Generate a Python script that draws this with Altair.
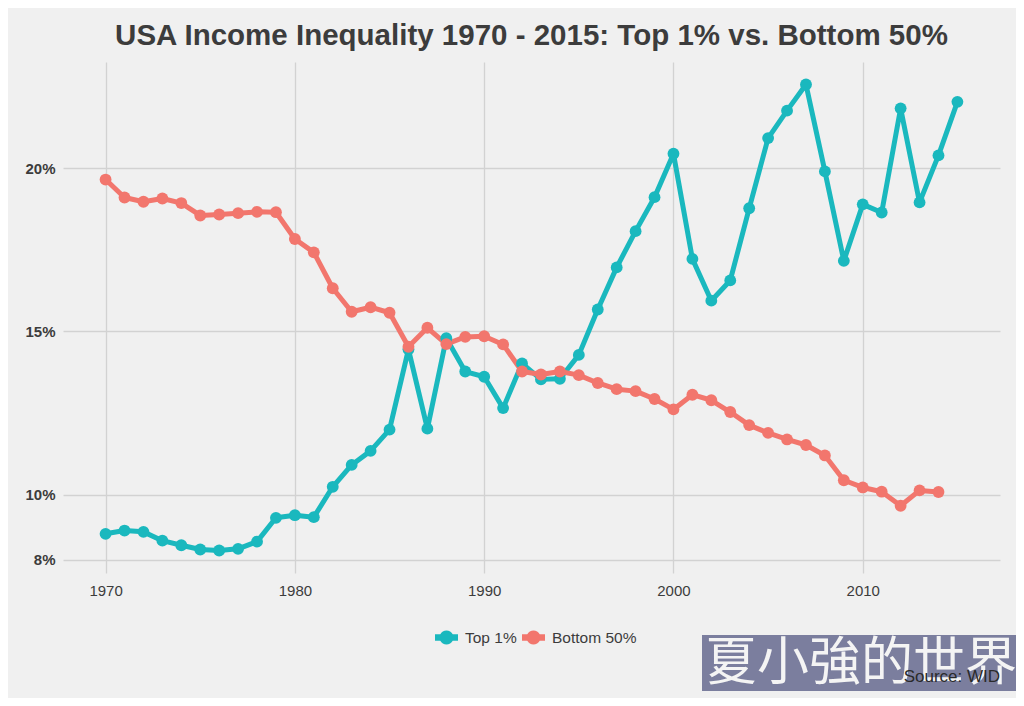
import pandas as pd
import altair as alt

# values (share of national income, %)
years = list(range(1970, 2016))
top_1 = [
    8.80, 8.90, 8.86, 8.59, 8.45, 8.32, 8.29, 8.34, 8.56, 9.29,
    9.37, 9.31, 10.24, 10.91, 11.34, 11.99, 14.45, 12.02, 14.79, 13.77,
    13.61, 12.65, 14.02, 13.53, 13.55, 14.28, 15.67, 16.96, 18.07, 19.11,
    20.44, 17.22, 15.94, 16.56, 18.77, 20.92, 21.76, 22.56, 19.90, 17.16,
    18.89, 18.64, 21.83, 18.95, 20.39, 22.03,
]
bottom_50 = [
    19.65, 19.10, 18.97, 19.07, 18.93, 18.55, 18.58, 18.62, 18.66, 18.65,
    17.83, 17.42, 16.32, 15.60, 15.74, 15.57, 14.53, 15.11, 14.61, 14.83,
    14.85, 14.60, 13.77, 13.68, 13.77, 13.66, 13.42, 13.23, 13.17, 12.93,
    12.61, 13.06, 12.89, 12.53, 12.13, 11.89, 11.69, 11.52, 11.20, 10.44,
    10.22, 10.09, 9.66, 10.13, 10.08,
]
series = ["Top 1%", "Bottom 50%"]
colors = ["#1AB8BE", "#F2766D"]
x_ticks = [1970, 1980, 1990, 2000, 2010]
y_ticks = [8, 10, 15, 20]

title_text = "USA Income Inequality 1970 - 2015: Top 1% vs. Bottom 50%"
source_text = "Source: WID"
watermark_text = "夏小強的世界"

FONT = "Liberation Sans"
INK = "#3c3c3c"

df = pd.concat([
    pd.DataFrame({"year": years, "share": top_1, "group": series[0]}),
    pd.DataFrame({"year": years[:len(bottom_50)], "share": bottom_50, "group": series[1]}),
])

# line with a dot in the middle, like ggplot's legend keys
key_path = ("M-1,-0.28H-0.542A0.61,0.61 0 0 1 0.542,-0.28H1V0.28H0.542"
            "A0.61,0.61 0 0 1 -0.542,0.28H-1Z")

base = alt.Chart(df).encode(
    x=alt.X("year:Q",
            scale=alt.Scale(domain=[1967.75, 2017.25], nice=False, zero=False),
            axis=alt.Axis(values=x_ticks, format="d", title=None, ticks=False,
                          tickSize=0, domain=False, labelPadding=10,
                          labelFontSize=15)),
    y=alt.Y("share:Q",
            scale=alt.Scale(domain=[7.6, 23.25], nice=False, zero=False),
            axis=alt.Axis(values=y_ticks, labelExpr="datum.value + '%'",
                          title=None, ticks=False, tickSize=0, domain=False,
                          labelPadding=8, labelFontSize=15,
                          labelFontWeight="bold")),
)

# lines get their colour from a condition (no scale, no legend); the dots carry the legend
lines = base.mark_line(strokeWidth=5, strokeJoin="round").encode(
    detail="group:N",
    stroke=alt.condition(alt.datum.group == series[0],
                         alt.value(colors[0]), alt.value(colors[1])),
)

points = base.mark_circle(size=140, opacity=1).encode(
    color=alt.Color("group:N", scale=alt.Scale(domain=series, range=colors),
                    legend=alt.Legend(title=None, orient="none", legendX=372,
                                      legendY=564, direction="horizontal",
                                      symbolType=key_path, symbolSize=529,
                                      symbolStrokeWidth=0, symbolOpacity=1,
                                      labelFontSize=15.5, labelColor=INK,
                                      labelFont=FONT, labelOffset=7,
                                      columnPadding=5, padding=0))
)

title = alt.Chart(pd.DataFrame({"t": [title_text]})).mark_text(
    font=FONT, fontSize=29.5, fontWeight="bold", color=INK,
    align="center", baseline="alphabetic"
).encode(text="t:N", x=alt.value(468.5), y=alt.value(-17))

# watermark box and source caption under the plot
wm_box = alt.Chart(pd.DataFrame({"k": [0]})).mark_rect(color="#7b7e9e").encode(
    x=alt.value(639), x2=alt.value(956), y=alt.value(573), y2=alt.value(629)
)
wm_text = alt.Chart(pd.DataFrame({"t": [watermark_text]})).mark_text(
    font="Noto Sans CJK TC", fontSize=52, color="#f4f4f4",
    align="center", baseline="middle"
).encode(text="t:N", x=alt.value(798), y=alt.value(602))
source = alt.Chart(pd.DataFrame({"t": [source_text]})).mark_text(
    font=FONT, fontSize=17, color="#2a2a2a", align="right", baseline="alphabetic"
).encode(text="t:N", x=alt.value(937), y=alt.value(620))

chart = alt.layer(lines, points, title, wm_box, wm_text, source).properties(
    width=937,
    height=511,
    background="#F0F0F0",
    padding={"left": 55, "top": 54, "right": 16, "bottom": 125},
    autosize=alt.AutoSizeParams(type="none"),
).configure_view(
    stroke=None
).configure_axis(
    gridColor="#D2D2D2", gridWidth=1.3, labelFont=FONT, labelColor=INK
)

chart.save("out.html", embed_options={"renderer": "svg", "actions": False})
